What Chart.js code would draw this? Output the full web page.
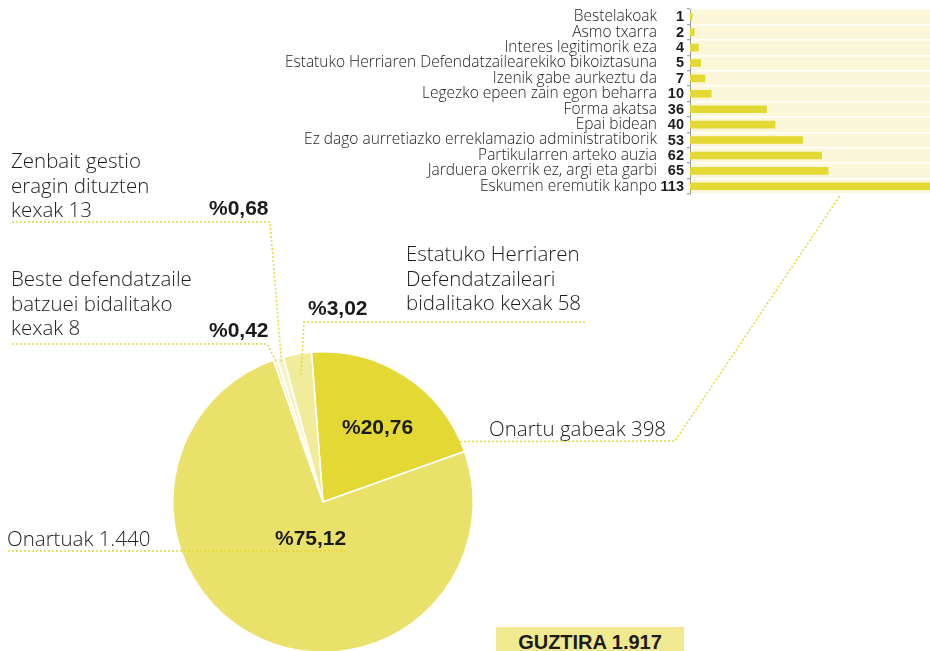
<!DOCTYPE html>
<html>
<head>
<meta charset="utf-8">
<script src="https://cdn.jsdelivr.net/npm/chart.js@4.4.1/dist/chart.umd.min.js"></script>
<style>
  html, body { margin: 0; padding: 0; width: 930px; height: 651px; overflow: hidden; background: #fff; }
  body { position: relative; font-family: "Open Sans", "Liberation Sans", Arial, sans-serif; color: #1c1c1c; }
  #pieChart { position: absolute; left: 0; top: 0; }
  #barChart { position: absolute; left: 270px; top: 0; }
  .lbl { position: absolute; font-size: 20.5px; font-weight: 300; line-height: 24.5px; white-space: nowrap; }
  .pct { position: absolute; font-family: "Liberation Sans", Arial, sans-serif; font-size: 21px; font-weight: bold;
         white-space: nowrap; line-height: 24px; }
  #total { position: absolute; left: 496px; top: 627px; width: 188px; height: 30px; background: #f1e98f;
           font-family: "Liberation Sans", Arial, sans-serif; font-size: 20px; font-weight: bold;
           text-align: center; line-height: 30px; }
</style>
</head>
<body>
<canvas id="pieChart" width="930" height="700"></canvas>
<canvas id="barChart" width="660" height="200"></canvas>

<div class="lbl" style="left:11px; top:148px;">Zenbait gestio<br>eragin dituzten<br>kexak 13</div>
<div class="lbl" style="left:11px; top:266px;">Beste defendatzaile<br>batzuei bidalitako<br>kexak 8</div>
<div class="lbl" style="left:406px; top:241px;">Estatuko Herriaren<br>Defendatzaileari<br>bidalitako kexak 58</div>
<div class="lbl" style="left:489px; top:416px;">Onartu gabeak 398</div>
<div class="lbl" style="left:7px; top:526px;">Onartuak 1.440</div>

<div class="pct" style="left:209px; top:196px;">%0,68</div>
<div class="pct" style="left:209px; top:318px;">%0,42</div>
<div class="pct" style="left:308px; top:296px;">%3,02</div>
<div class="pct" style="left:342px; top:415px;">%20,76</div>
<div class="pct" style="left:275px; top:526px;">%75,12</div>

<div id="total">GUZTIRA 1.917</div>

<script>
// pie data (order = drawing order, clockwise from the top)
const pieLabels = [
  "Onartu gabeak",
  "Onartuak",
  "Beste defendatzaile batzuei bidalitako kexak",
  "Zenbait gestio eragin dituzten kexak",
  "Estatuko Herriaren Defendatzaileari bidalitako kexak"
];
const pieValues = [398, 1440, 8, 13, 58];
const pieColors = ["#e4d934", "#e9e169", "#f7f3c8", "#f7f3c8", "#f1eb9c"];

// bar data
const barLabels = [
  "Bestelakoak",
  "Asmo txarra",
  "Interes legitimorik eza",
  "Estatuko Herriaren Defendatzailearekiko bikoiztasuna",
  "Izenik gabe aurkeztu da",
  "Legezko epeen zain egon beharra",
  "Forma akatsa",
  "Epai bidean",
  "Ez dago aurretiazko erreklamazio administratiborik",
  "Partikularren arteko auzia",
  "Jarduera okerrik ez, argi eta garbi",
  "Eskumen eremutik kanpo"
];
const barValues = [1, 2, 4, 5, 7, 10, 36, 40, 53, 62, 65, 113];

const lineColor = "#e4d934";

function dashedPath(ctx, pts) {
  ctx.beginPath();
  ctx.moveTo(pts[0][0], pts[0][1]);
  for (let i = 1; i < pts.length; i++) ctx.lineTo(pts[i][0], pts[i][1]);
  ctx.stroke();
}

// point inside a slice, at a fraction of the radius
function slicePoint(arc, f) {
  const a = (arc.startAngle + arc.endAngle) / 2;
  return [arc.x + Math.cos(a) * arc.outerRadius * f, arc.y + Math.sin(a) * arc.outerRadius * f];
}

const leaderLines = {
  id: "leaderLines",
  afterDraw(chart) {
    const ctx = chart.ctx;
    const arcs = chart.getDatasetMeta(0).data;
    ctx.save();
    ctx.strokeStyle = lineColor;
    ctx.lineWidth = 1.5;
    ctx.setLineDash([2, 2]);
    // Zenbait gestio
    dashedPath(ctx, [[12, 222], [270, 222], slicePoint(arcs[3], 0.97)]);
    // Beste defendatzaile
    dashedPath(ctx, [[12, 344], [267, 344], slicePoint(arcs[2], 0.99)]);
    // Estatuko Herriaren
    dashedPath(ctx, [[585, 322], [304, 322], slicePoint(arcs[4], 0.86)]);
    // Onartu gabeak -> bar chart
    dashedPath(ctx, [[340, 442], [675, 441], [841, 194]]);
    // Onartuak
    dashedPath(ctx, [[8, 551], [348, 551]]);
    ctx.restore();
  }
};

new Chart(document.getElementById("pieChart"), {
  type: "pie",
  data: {
    labels: pieLabels,
    datasets: [{
      data: pieValues,
      backgroundColor: pieColors,
      borderColor: "#fff",
      borderWidth: 1.5
    }]
  },
  options: {
    responsive: false,
    animation: false,
    rotation: -4.4,
    layout: { padding: { left: 172, right: 456, top: 351, bottom: 47 } },
    plugins: { legend: { display: false }, tooltip: { enabled: false } }
  },
  plugins: [leaderLines]
});

// cream band behind the bars + bold values next to the axis
const barExtras = {
  id: "barExtras",
  beforeDraw(chart) {
    const a = chart.chartArea;
    chart.ctx.save();
    chart.ctx.fillStyle = "#faf6d9";
    chart.ctx.fillRect(a.left, a.top, a.right - a.left, a.bottom - a.top);
    chart.ctx.restore();
  },
  afterDraw(chart) {
    const ctx = chart.ctx;
    const bars = chart.getDatasetMeta(0).data;
    ctx.save();
    ctx.font = "bold 14.5px 'Liberation Sans', Arial, sans-serif";
    ctx.fillStyle = "#1c1c1c";
    ctx.textAlign = "right";
    ctx.textBaseline = "middle";
    bars.forEach((bar, i) => {
      ctx.fillText(barValues[i], chart.chartArea.left - 6, bar.y + 0.5);
    });
    ctx.restore();
  }
};

new Chart(document.getElementById("barChart"), {
  type: "bar",
  data: {
    labels: barLabels,
    datasets: [{
      data: barValues,
      backgroundColor: "#e4d934",
      barThickness: 7
    }]
  },
  options: {
    indexAxis: "y",
    responsive: false,
    animation: false,
    layout: { padding: { left: 0, right: 0, top: 9, bottom: 6 } },
    scales: {
      x: { display: false, min: 0, max: 113 },
      y: {
        afterFit(scale) {
          scale.width = 420;
          scale.paddingTop = 0;
          scale.paddingBottom = 0;
        },
        grid: {
          offset: true,
          color: "#ffffff",
          lineWidth: 1.5,
          tickColor: "#8a8a8a",
          tickLength: 3,
          tickWidth: 1
        },
        border: { display: true, color: "#9a9a9a", width: 1 },
        ticks: {
          autoSkip: false,
          padding: 30,
          color: "#1c1c1c",
          font: { family: "'Open Sans', 'Liberation Sans', Arial, sans-serif", size: 15.5, weight: 300 }
        }
      }
    },
    plugins: { legend: { display: false }, tooltip: { enabled: false } }
  },
  plugins: [barExtras]
});
</script>
</body>
</html>
